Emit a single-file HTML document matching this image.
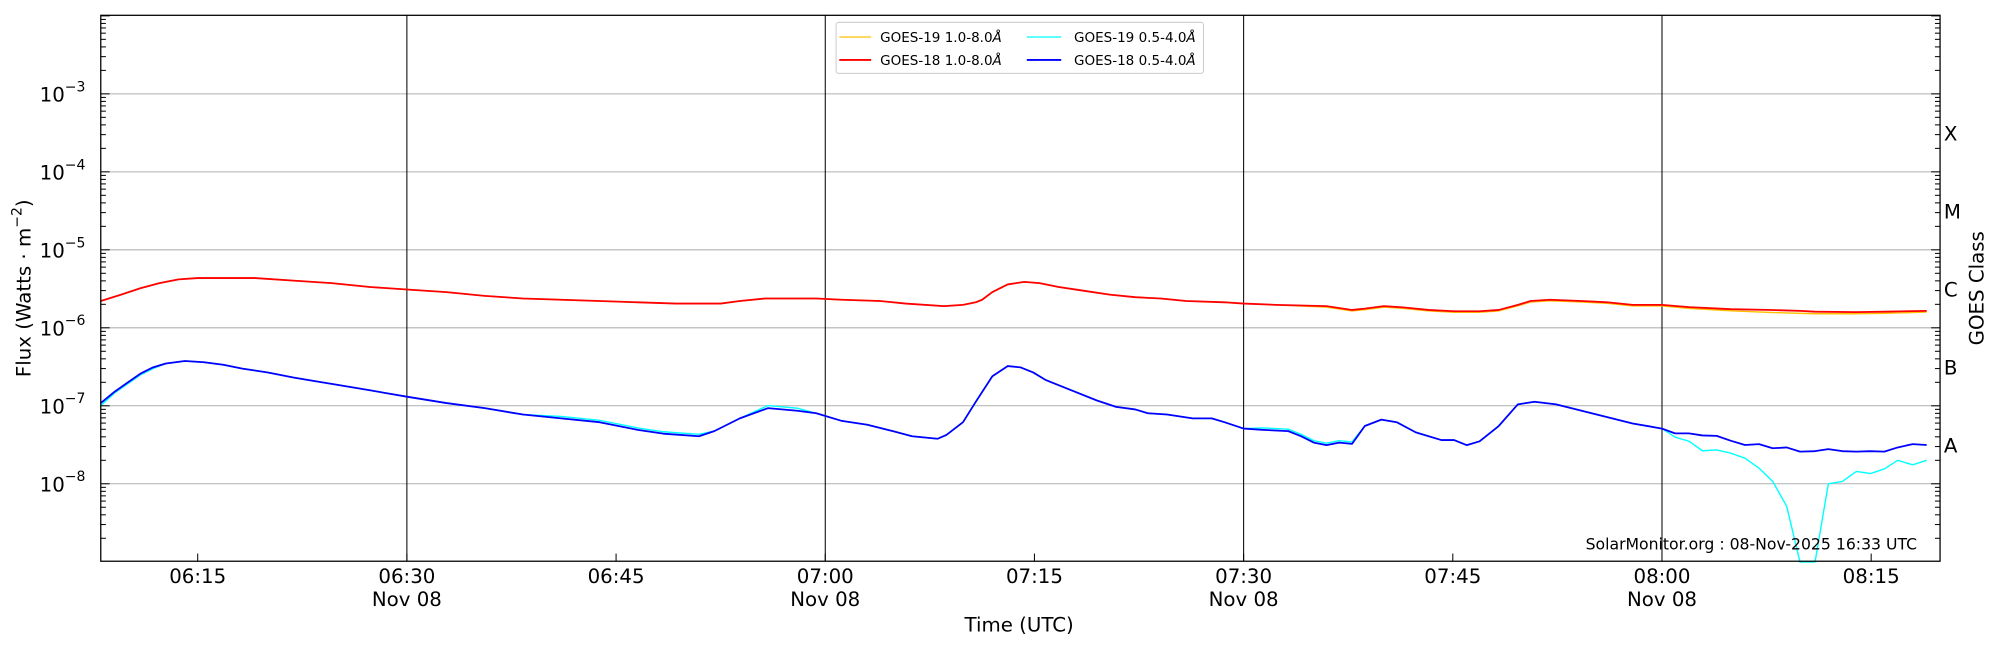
<!DOCTYPE html>
<html><head><meta charset="utf-8"><style>
html,body{margin:0;padding:0;background:#fff;}
svg{display:block;font-family:"DejaVu Sans","Liberation Sans",sans-serif;}
</style></head><body>
<svg id="s" width="2000" height="650" viewBox="0 0 1568 509.6" xmlns="http://www.w3.org/2000/svg">
<rect x="0" y="0" width="1568" height="509.6" fill="#fff"/>
<g id="grid"></g>
<g id="data" fill="none" stroke-linejoin="round"></g>
<rect x="79" y="12" width="1442" height="428" fill="none" stroke="#000" stroke-width="1"/>
<g id="ticks" stroke="#000" stroke-width="0.8"></g>
<g id="labels" font-size="15.5" fill="#000"></g>
<g font-size="10.6">
<rect x="655.5" y="17.5" width="288" height="40" rx="2" fill="#fff" fill-opacity="0.8" stroke="#ccc" stroke-width="0.8"/>
<line x1="658" y1="29" x2="683" y2="29" stroke="#ffc000" stroke-width="1"/>
<text x="690" y="33">GOES-19 1.0-8.0<tspan font-style="italic">Å</tspan></text>
<line x1="658" y1="47" x2="683" y2="47" stroke="#ff0000" stroke-width="1.4"/>
<text x="690" y="51">GOES-18 1.0-8.0<tspan font-style="italic">Å</tspan></text>
<line x1="805" y1="29" x2="832" y2="29" stroke="#00ffff" stroke-width="1"/>
<text x="842" y="33">GOES-19 0.5-4.0<tspan font-style="italic">Å</tspan></text>
<line x1="805" y1="47" x2="832" y2="47" stroke="#0000ff" stroke-width="1.4"/>
<text x="842" y="51">GOES-18 0.5-4.0<tspan font-style="italic">Å</tspan></text>
</g>
<text x="1503" y="431" font-size="12.3" text-anchor="end">SolarMonitor.org : 08-Nov-2025 16:33 UTC</text>
<text x="799" y="495" font-size="15.5" text-anchor="middle">Time (UTC)</text>
<text transform="translate(24,226) rotate(-90)" font-size="15.5" text-anchor="middle">Flux (Watts · m<tspan dy="-7" font-size="11">−2</tspan><tspan dy="7">)</tspan></text>
<text transform="translate(1555,226) rotate(-90)" font-size="15.5" text-anchor="middle">GOES Class</text>
</svg>
<script>
var NS="http://www.w3.org/2000/svg";
function el(p,t,a,txt){var e=document.createElementNS(NS,t);for(var k in a)e.setAttribute(k,a[k]);if(txt!=null)e.textContent=txt;document.getElementById(p).appendChild(e);return e;}
var L=79,R=1521,T=12,B=440;
function Y(lg){return 257-(lg+6)*61.14;}
for(var n=-8;n<=-3;n++){el("grid","line",{x1:L,x2:R,y1:Y(n),y2:Y(n),stroke:"#b0b0b0","stroke-width":0.8});}
[319,647,975,1303].forEach(function(x){el("grid","line",{x1:x,x2:x,y1:T,y2:B,stroke:"#000","stroke-width":0.8});});
for(var n=-9;n<=-2;n++){for(var k=1;k<=9;k++){var lg=n+Math.log10(k);var y=Y(lg);if(y<T||y>B)continue;var len=k==1?7:4;
el("ticks","line",{x1:L,x2:L+len,y1:y,y2:y});el("ticks","line",{x1:R-len,x2:R,y1:y,y2:y});}}
for(var n=-8;n<=-3;n++){var t=el("labels","text",{x:67,y:Y(n)+6,"text-anchor":"end"});t.innerHTML='10<tspan dy="-8" font-size="11">−'+(-n)+'</tspan>';}
var cls=["A","B","C","M","X"];for(var i=0;i<5;i++){el("labels","text",{x:1524,y:Y(-7.5+i)+6},cls[i]);}
var xt=[[155,"06:15"],[319,"06:30",1],[483,"06:45"],[647,"07:00",1],[811,"07:15"],[975,"07:30",1],[1139,"07:45"],[1303,"08:00",1],[1467,"08:15"]];
xt.forEach(function(a){el("ticks","line",{x1:a[0],x2:a[0],y1:B-6,y2:B});el("labels","text",{x:a[0],y:457,"text-anchor":"middle"},a[1]);if(a[2])el("labels","text",{x:a[0],y:475,"text-anchor":"middle"},"Nov 08");});
function pl(pts,col,w){el("data","polyline",{points:pts.map(function(p){return p[0]+","+p[1];}).join(" "),stroke:col,"stroke-width":w||1.3});}
function tail(arr){return arr.map(function(p){return [1176+p[0]*0.26134,74+(p[1]-225)*0.3245];});}
var red=[[79,236],[95,231],[110,226],[125,222],[140,219],[155,218],[170,218],[200,218],[230,220],[260,222],[290,225],[319,227],[350,229],[380,232],[410,234],[440,235],[470,236],[500,237],[530,238],[565,238],[580,236],[600,234],[620,234],[640,234],[660,235],[690,236],[710,238],[740,240],[755,239],[765,237],[770,235],[778,229],[790,223],[803,221],[815,222],[830,225],[850,228],[870,231],[890,233],[910,234],[930,236],[960,237],[975,238],[1000,239],[1040,240],[1060,243],[1070,242],[1085,240],[1100,241],[1120,243],[1140,244],[1160,244],[1175,243],[1190,239],[1200,236],[1215,235],[1240,236],[1260,237],[1280,239],[1303,239]];
var redT=tail([[484,737],[567,739],[693,744],[818,746],[900,748],[945,750],[1069,751],[1153,750],[1280,748]]);
var orT=tail([[484,738],[567,742],[693,748],[818,752],[945,755],[1069,755],[1153,754],[1280,751]]);
var orange=red.map(function(p){return [p[0],p[0]>1000?p[1]+0.8:p[1]];});
var blue=[[79,316],[90,307],[100,300],[110,293],[120,288],[130,285],[145,283],[160,284],[175,286],[190,289],[210,292],[230,296],[260,301],[290,306],[319,311],[350,316],[380,320],[410,325],[440,328],[470,331],[500,337],[520,340],[548,342],[560,338],[580,328],[602,320],[625,322],[640,324],[660,330],[680,333],[700,338],[715,342],[725,343],[735,344],[742,341],[755,331],[765,315],[778,295],[790,287],[800,288],[810,292],[820,298],[840,306],[860,314],[875,319],[890,321],[900,324],[915,325],[935,328],[950,328],[960,331],[975,336],[990,337],[1010,338],[1020,342],[1030,347],[1040,349],[1050,347],[1060,348],[1070,334],[1083,329],[1095,331],[1110,339],[1130,345],[1140,345],[1150,349],[1160,346],[1175,334],[1190,317],[1203,315],[1220,317],[1240,322],[1260,327],[1280,332],[1303,336]];
var cyan=blue.map(function(p,i){var d=0;if(i==0)d=2;else if(p[0]<130)d=1;else if(p[0]>420&&p[0]<560)d=-1.5;else if(p[0]>590&&p[0]<640)d=-2;else if(p[0]>975&&p[0]<1065)d=-1.5;return [p[0],p[1]+d];});
var bT=tail([[484,1035],[525,1044],[567,1044],[607,1049],[650,1050],[693,1062],[735,1072],[777,1070],[818,1080],[860,1078],[900,1088],[945,1087],[985,1082],[1027,1087],[1069,1088],[1111,1087],[1153,1088],[1193,1078],[1238,1070],[1280,1072]]);
var cT=tail([[484,1035],[525,1053],[567,1063],[607,1086],[650,1084],[693,1092],[735,1104],[777,1128],[818,1160],[860,1220],[900,1355],[945,1355],[985,1166],[1027,1160],[1069,1136],[1111,1141],[1153,1130],[1193,1109],[1238,1120],[1280,1109]]);
pl(cyan.concat(cT.slice(1)),"#00ffff",1.1);
pl(blue.concat(bT.slice(1)),"#0000ff",1.4);
pl(orange.concat(orT.slice(1)),"#ffc000",1.1);
pl(red.concat(redT.slice(1)),"#ff0000",1.4);
</script>
</body></html>
